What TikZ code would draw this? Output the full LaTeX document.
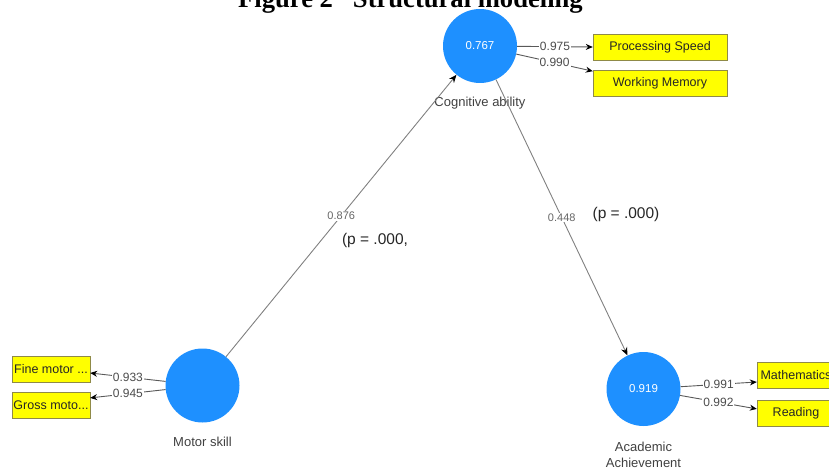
\documentclass[tikz,border=0pt]{standalone}
\usepackage{fontspec}
\setmainfont{Liberation Sans}
\newfontfamily\titlefont{Liberation Serif}
\usetikzlibrary{arrows.meta,positioning}
\definecolor{plsblue}{RGB}{30,144,255}
\definecolor{boxyellow}{RGB}{255,255,0}
\tikzset{latent node/.style={circle,fill=plsblue,draw=none,minimum size=74pt,inner sep=0pt,text=white,font=\fontsize{11.5}{13}\selectfont},
         latent name/.style={rectangle,draw=none,fill=none,inner sep=1pt,align=center,text=black!75,font=\fontsize{13}{16}\selectfont},
         indicator/.style={rectangle,fill=boxyellow,draw=yellow!50!black,line width=0.4pt,minimum height=26pt,inner sep=0pt,text=black!85,font=\fontsize{12.5}{14}\selectfont},
         loading/.style={-{Stealth[black,length=7pt,width=6pt]},draw=black!65,line width=0.9pt},
         structural edge/.style={-{Stealth[black,length=8pt,width=6.5pt]},draw=black!50,line width=0.9pt},
         weight label/.style={rectangle,fill=white,inner sep=1pt,text=black!70,font=\fontsize{12}{14}\selectfont},
         coef label/.style={rectangle,fill=white,inner sep=1pt,text=black!60,font=\fontsize{11}{13}\selectfont},
         p label/.style={rectangle,draw=none,fill=none,inner sep=0pt,text=black!85,font=\fontsize{15.5}{17}\selectfont},
}

\begin{document}
\begin{tikzpicture}[x=1pt,y=-1pt]

\useasboundingbox (0,0) rectangle (829,470);
\clip (0,0) rectangle (829,470);

% title, cut by the top edge
\node[anchor=base,inner sep=0pt,font=\titlefont\bfseries\fontsize{26.6}{30}\selectfont] (title) at (410.5,8) {Figure 2\hspace{0.5em} Structural modeling};

% latent variables
\node[latent node] (cog) at (480,46) {0.767};
\node[latent node] (motor) at (202.5,385.5) {};
\node[latent node] (acad) at (643.5,389) {0.919};

\node[latent name, below=13pt of cog] (cog_name) {Cognitive ability};
\node[latent name, below=13pt of motor] (motor_name) {Motor skill};
\node[latent name, below=15pt of acad] (acad_name) {Academic\\Achievement};

% indicators
\node[indicator, minimum width=134pt] (ps) at (660,47) {Processing Speed};
\node[indicator, minimum width=134pt, below=10pt of ps] (wm) {Working Memory};

\node[indicator, minimum width=78pt] (fm) at (51,369) {Fine motor ...};
\node[indicator, minimum width=78pt, below=10pt of fm] (gm) {Gross moto...};

\node[indicator, minimum width=78pt] (math) at (796,375) {Mathematics};
\node[indicator, minimum width=78pt, below=12pt of math] (read) {Reading};

% outer loadings
\draw[loading] (cog) -- (ps.west) node[weight label, midway] (l_ps) {0.975};
\draw[loading] (cog) -- ([yshift=-1pt]wm.north west) node[weight label, midway] (l_wm) {0.990};

\draw[loading] (motor) -- ([yshift=-4pt]fm.east) node[weight label, midway] (l_fm) {0.933};
\draw[loading] (motor) -- ([yshift=7.5pt]gm.east) node[weight label, midway] (l_gm) {0.945};

\draw[loading] (acad) -- ([yshift=-7pt]math.west) node[weight label, midway] (l_math) {0.991};
\draw[loading] (acad) -- ([yshift=4.5pt]read.west) node[weight label, midway] (l_read) {0.992};

% structural paths
\draw[structural edge] (motor) -- (cog) node[coef label, midway] (c_mc) {0.876};
\draw[structural edge] (cog) -- (acad) node[coef label, midway] (c_ca) {0.448};

\node[p label] (p_mc) at (375,240) {(p = .000,};
\node[p label] (p_ca) at (626,214) {(p = .000)};

\end{tikzpicture}
\end{document}
